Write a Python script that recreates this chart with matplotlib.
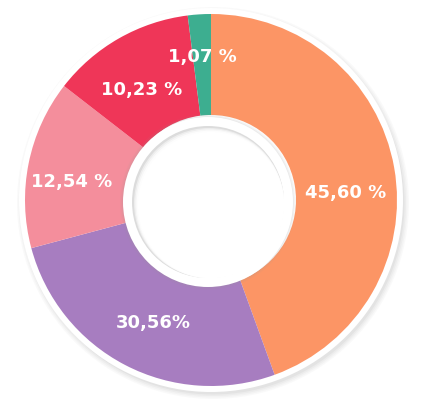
import matplotlib.pyplot as plt
from matplotlib.patches import Circle

# parts telles que dessinées (angles, en degrés, sens horaire depuis le haut)
parts_dessinees = [160.0, 95.0, 52.8, 45.0, 7.2]
# textes affichés sur les parts
etiquettes = ["45,60 %", "30,56%", "12,54 %", "10,23 %", "1,07 %"]
couleurs = ["#FC9565", "#A77DC0", "#F48E9C", "#EF3658", "#3DAE90"]

# positions des étiquettes (pixels, origine en bas à gauche)
pos_etiquettes = [(346, 209), (153, 79), (72, 220), (142, 312), (202, 345)]

W, H = 423, 402
cx, cy = 211, 201
R_ext = 186
R_int = 85

fig = plt.figure(figsize=(W / 100, H / 100), dpi=100)
ax = fig.add_axes([0, 0, 1, 1])

# ombre douce autour du disque
for i, a in enumerate([0.05, 0.06, 0.08, 0.10]):
    ax.add_patch(Circle((cx + 2, cy - 3), R_ext + 10 - 1.5 * i, color='#9a9a9a', alpha=a, lw=0, zorder=1))
ax.add_patch(Circle((cx, cy), R_ext + 6, color='white', lw=0, zorder=2))

wedges, _ = ax.pie(parts_dessinees, colors=couleurs, startangle=90, counterclock=False,
                   radius=R_ext, center=(cx, cy),
                   wedgeprops=dict(width=R_ext - R_int, linewidth=0))
for w in wedges:
    w.set_zorder(3)
ax.set_xlim(0, W)
ax.set_ylim(0, H)
ax.set_aspect('equal')
ax.axis('off')

# anneau blanc intérieur avec ombre
ix, iy = cx - 3, cy - 2
for i, a in enumerate([0.06, 0.08, 0.10]):
    ax.add_patch(Circle((ix, iy), R_int + 3 - 1.2 * i, color='#9a9a9a', alpha=a, lw=0, zorder=4))
ax.add_patch(Circle((ix, iy), R_int, color='white', lw=0, zorder=5))
ax.add_patch(Circle((ix, iy), R_int - 9, color='#dcdcdc', lw=0, zorder=6))
for i, a in enumerate([0.5, 0.6, 0.8, 1.0]):
    ax.add_patch(Circle((ix + 1 + i * 0.7, iy - 1 - i * 0.7), R_int - 10 - i * 0.6,
                        color='white', alpha=a, lw=0, zorder=7))

for (x, y), txt in zip(pos_etiquettes, etiquettes):
    ax.text(x, y, txt, color='white', fontsize=13, fontweight='bold',
            ha='center', va='center', zorder=10)

fig.savefig('out.png', dpi=100)
